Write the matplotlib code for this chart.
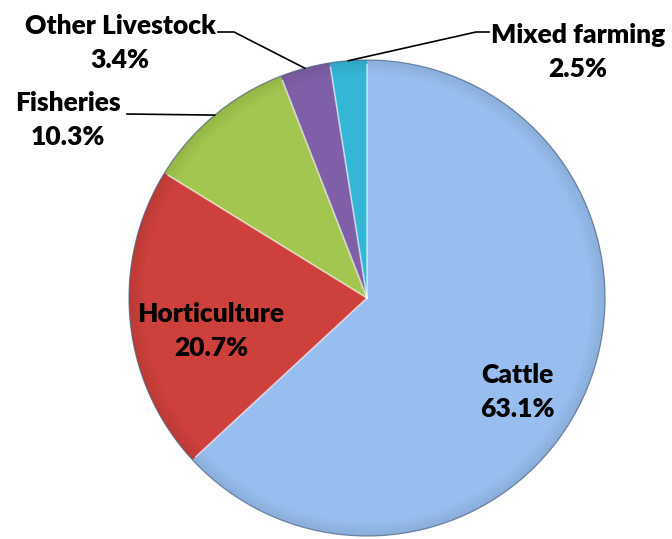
import numpy as np
import matplotlib
matplotlib.use('Agg')
import matplotlib.pyplot as plt
from matplotlib.patches import Wedge, Circle

# 农业产值构成
categories = ['Cattle', 'Horticulture', 'Fisheries', 'Other Livestock', 'Mixed farming']
shares = [63.1, 20.7, 10.3, 3.4, 2.5]
colors = ['#97BEEE', '#CD403C', '#A2C64F', '#7F60A8', '#35B6D6']

# 标签位置 (像素坐标, 原点在左上)
label_pos = {
    'Cattle': (517, 392),
    'Horticulture': (211, 331),
    'Fisheries': (68, 120),
    'Other Livestock': (120, 43),
    'Mixed farming': (578, 52),
}
# 引线: 文字端点 -> 折点
leaders = {
    'Other Livestock': [(218, 32), (234, 32)],
    'Mixed farming': [(489, 32), (476, 32)],
    'Fisheries': [(127, 114)],
}

W, H = 672, 539
cx, cy, R = 367, 298, 238

plt.rcParams['font.family'] = ['Lato', 'DejaVu Sans']
fig = plt.figure(figsize=(W / 100, H / 100), dpi=100)
ax = fig.add_axes([0, 0, 1, 1])
ax.set_xlim(0, W)
ax.set_ylim(H, 0)
ax.set_aspect('equal')
ax.axis('off')

# 图像坐标 y 向下, 角度按顺时针从12点方向开始
def to_xy(angle_deg, r):
    a = np.deg2rad(angle_deg)
    return cx + r * np.cos(a), cy - r * np.sin(a)

total = sum(shares)
start = 90.0
mids = {}
for name, v, c in zip(categories, shares, colors):
    sweep = v / total * 360
    end = start - sweep
    # y 轴翻转后, Wedge 的角度取反
    w = Wedge((cx, cy), R, -start, -end, facecolor=c, edgecolor='none', zorder=2)
    ax.add_patch(w)
    # 边缘暗化, 模拟斜面效果
    for k in range(10):
        rr = R * (1 - 0.006 * k)
        ax.add_patch(Wedge((cx, cy), rr, -start, -end, width=R * 0.006,
                           facecolor='black', alpha=0.08 * (1 - k / 10), edgecolor='none', zorder=3))
    # 径向边高光
    for ang in (start, end):
        x1, y1 = to_xy(ang, R * 0.98)
        ax.plot([cx, x1], [cy, y1], color='white', alpha=0.35, lw=1.2, zorder=4)
    mids[name] = start - sweep / 2
    start = end

ax.add_patch(Circle((cx, cy), R, facecolor='none', edgecolor='#4a5f7a', lw=0.9, alpha=0.7, zorder=5))

for name, v in zip(categories, shares):
    x, y = label_pos[name]
    ax.text(x, y, f'{name}\n{v:.1f}%', ha='center', va='center', fontsize=19,
            fontweight='heavy', color='black', linespacing=1.5, zorder=6)
    if name in leaders:
        pts = leaders[name] + [to_xy(mids[name], R)]
        xs, ys = zip(*pts)
        ax.plot(xs, ys, color='black', lw=1.2, zorder=6)

fig.savefig('out.png', dpi=100)
